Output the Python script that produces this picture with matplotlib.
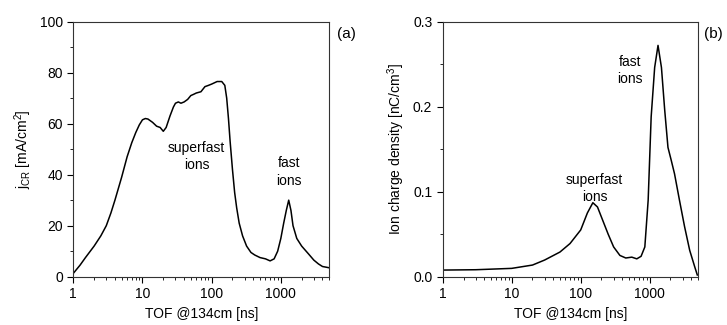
import matplotlib
matplotlib.use("Agg")
import matplotlib.pyplot as plt
from matplotlib.ticker import LogLocator, MultipleLocator, NullFormatter

plt.rcParams['font.family'] = ['Liberation Sans', 'DejaVu Sans']
plt.rcParams['font.size'] = 10
plt.rcParams['mathtext.fontset'] = 'custom'
plt.rcParams['mathtext.rm'] = 'Liberation Sans'
plt.rcParams['mathtext.it'] = 'Liberation Sans:italic'

# (a) current density j_CR vs time of flight
tof_a = [1, 1.25, 1.5, 2, 2.5, 3, 3.5, 4, 5, 6, 7, 8, 9, 10, 11, 12, 14, 16, 18,
         20, 22, 25, 28, 30, 33, 36, 40, 45, 50, 55, 60, 70, 80, 90, 100, 120,
         140, 155, 165, 175, 185, 200, 215, 230, 250, 280, 320, 370, 420, 500,
         600, 700, 800, 900, 1000, 1100, 1200, 1300, 1400, 1500, 1700, 2000,
         2500, 3000, 3500, 4000, 5000]
j_cr = [1.3, 4.5, 7.5, 12, 16, 20, 25, 30, 39, 47, 52.5, 56.5, 59.5, 61.5, 62,
        61.8, 60.5, 59, 58.5, 57, 58.5, 63, 66.5, 68, 68.5, 68, 68.5, 69.5, 71,
        71.5, 72, 72.5, 74.5, 75, 75.5, 76.5, 76.5, 75, 70, 62, 53, 42, 33, 27,
        21, 16, 12, 9.5, 8.5, 7.5, 7, 6.2, 7, 10, 15, 21, 26, 30, 26, 20, 15, 12,
        9, 6.5, 5, 4, 3.5]

# (b) ion charge density vs time of flight
tof_b = [1, 3, 10, 20, 30, 50, 70, 100, 125, 150, 175, 200, 250, 300, 370, 450,
         550, 650, 750, 850, 950, 1050, 1180, 1320, 1480, 1650, 1840, 2050, 2290,
         2700, 3200, 3800, 4480, 4900]
rho = [0.0078, 0.0082, 0.0098, 0.0137, 0.0196, 0.029, 0.039, 0.055, 0.075, 0.087,
       0.082, 0.070, 0.050, 0.035, 0.025, 0.022, 0.023, 0.021, 0.024, 0.035,
       0.09, 0.188, 0.246, 0.272, 0.246, 0.196, 0.152, 0.137, 0.121, 0.09,
       0.059, 0.031, 0.012, 0.002]

xticks = [1, 10, 100, 1000]
xtick_labels = ['1', '10', '100', '1000']

fig = plt.figure(figsize=(7.27, 3.25), dpi=100)
ax1 = fig.add_axes([0.1008, 0.1486, 0.352, 0.785])
ax2 = fig.add_axes([0.609, 0.1486, 0.351, 0.785])


def style_axis(ax):
    ax.set_xscale('log')
    ax.set_xlim(1, 5000)
    ax.set_xticks(xticks)
    ax.set_xticklabels(xtick_labels)
    ax.xaxis.set_minor_locator(LogLocator(base=10, subs=range(2, 10)))
    ax.xaxis.set_minor_formatter(NullFormatter())
    ax.tick_params(which='both', direction='out', top=False, right=False)
    ax.tick_params(which='major', length=4, width=0.8)
    ax.tick_params(which='minor', length=2, width=0.6)
    ax.set_xlabel('TOF @134cm [ns]')
    for s in ax.spines.values():
        s.set_linewidth(0.8)
        s.set_color('#333333')


ax1.plot(tof_a, j_cr, color='black', lw=1.1)
style_axis(ax1)
ax1.set_ylim(0, 100)
ax1.yaxis.set_major_locator(MultipleLocator(20))
ax1.yaxis.set_minor_locator(MultipleLocator(10))
ax1.set_ylabel('j$_{\\mathrm{CR}}$ [mA/cm$^{2}$]')
ax1.text(61, 47, 'superfast\nions', ha='center', va='center', linespacing=1.3)
ax1.text(1300, 41, 'fast\nions', ha='center', va='center', linespacing=1.3)

ax2.plot(tof_b, rho, color='black', lw=1.1)
style_axis(ax2)
ax2.set_ylim(0, 0.3)
ax2.yaxis.set_major_locator(MultipleLocator(0.1))
ax2.yaxis.set_minor_locator(MultipleLocator(0.05))
ax2.yaxis.set_major_formatter(plt.FuncFormatter(lambda v, p: f'{v:.1f}'))
ax2.set_ylabel('Ion charge density [nC/cm$^{3}$]')
ax2.text(160, 0.104, 'superfast\nions', ha='center', va='center', linespacing=1.3)
ax2.text(513, 0.2426, 'fast\nions', ha='center', va='center', linespacing=1.3)

fig.text(0.477, 0.895, '(a)', ha='center', va='center', fontsize=11)
fig.text(0.981, 0.895, '(b)', ha='center', va='center', fontsize=11)

fig.savefig('out.png', dpi=100)
